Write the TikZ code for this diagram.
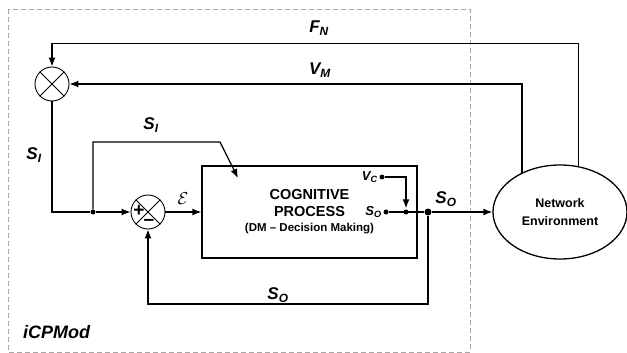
\documentclass[tikz,border=0pt]{standalone}
\usepackage{fontspec}
\setmainfont{Liberation Sans}
\usetikzlibrary{shapes,arrows.meta,positioning,calc}
\tikzstyle{sig}   =[font=\bfseries\itshape\fontsize{17}{17}\selectfont, inner sep=0pt]
\tikzstyle{port}  =[font=\bfseries\itshape\fontsize{13}{13}\selectfont, inner sep=0pt]
\tikzstyle{mixer} =[circle, draw=black, line width=0.9pt, minimum size=34pt, inner sep=0pt]
\tikzstyle{wire}  =[line width=1.3pt]
\tikzstyle{arr}   =[-{Latex[length=9pt,width=7pt]}, line width=1.3pt]
\tikzstyle{dot}   =[circle, fill=black, inner sep=0pt, minimum size=5pt]
\tikzstyle{bigdot}=[circle, fill=black, inner sep=0pt, minimum size=7pt]

\begin{document}
\begin{tikzpicture}[x=1pt, y=-1pt]
  \useasboundingbox (0,0) rectangle (627,353);

  % ── module frame ───────────────────────────────────────────────────────────
  \draw[gray!70, line width=0.9pt, dash pattern=on 5pt off 3pt] (8,9) rectangle (470,352);
  \node[sig, font=\bfseries\itshape\fontsize{18}{18}\selectfont, anchor=west] (mod) at (23,332) {iCPMod};

  % ── nodes ──────────────────────────────────────────────────────────────────
  \node[mixer] (mult) at (52,84) {};
  \draw[line width=0.9pt] (mult.north west) -- (mult.south east) (mult.north east) -- (mult.south west);
  \node[mixer] (sum) at (148,212) {};
  \draw[line width=0.9pt] (sum.north west) -- (sum.south east) (sum.north east) -- (sum.south west);
  \node[font=\bfseries\fontsize{19}{19}\selectfont, inner sep=0pt] (plus)  at (139,211) {+};
  \node[font=\bfseries\fontsize{19}{19}\selectfont, inner sep=0pt] (minus) at (149,222) {–};

  \node[draw, line width=1.3pt, minimum width=215pt, minimum height=92pt, align=center,
        font=\bfseries\fontsize{14.5}{17}\selectfont] (cog) at (309.5,212)
    {COGNITIVE\\PROCESS\\[-2pt]{\fontsize{11.5}{12}\selectfont (DM – Decision Making)}};

  \node[ellipse, draw, line width=1.3pt, minimum width=134pt, minimum height=94pt, align=center,
        font=\bfseries\fontsize{12.5}{18}\selectfont] (env) at (560,212) {Network\\Environment};

  \node[dot]    (vc)   at (382,177) {};
  \node[dot]    (so)   at (386,212) {};
  \node[dot]    (jvc)  at (406,212) {};
  \node[bigdot] (jout) at (428,212) {};
  \node[dot]    (jin)  at (93,212)  {};
  \node[port, anchor=east] at ($(vc.west)+(-1.5,0)$) {V\textsubscript{C}};
  \node[port, anchor=east] at ($(so.west)+(-1.5,0)$) {S\textsubscript{O}};

  \coordinate (fntop) at (52,43.5);
  \coordinate (sitop) at (220,142);
  \coordinate (siin)  at (238,178);
  \coordinate (fb)    at (428,304);

  % ── outer loop ─────────────────────────────────────────────────────────────
  \draw[arr] (env.68) |- (fntop) -- (mult.north);
  \draw[arr] (env.134) |- (mult.east);
  \node[sig] at (319,28) {F\textsubscript{N}};
  \node[sig] at (320,70) {V\textsubscript{M}};

  % ── inner loop ─────────────────────────────────────────────────────────────
  \draw[wire] (mult.south) |- (jin);
  \node[sig] at (34,155) {S\textsubscript{I}};
  \draw[arr] (jin) -- (sum.west);
  \draw[arr] (jin) |- (sitop) -- (siin);
  \node[sig] at (151,125) {S\textsubscript{I}};
  \draw[arr] (sum.east) -- (cog.west);
  \node[font=\fontsize{19}{19}\selectfont] at (183,199) {$\mathcal{E}$};

  \draw[arr, shorten >=1pt] (vc) -| (jvc);
  \draw[wire] (so) -- (jout);
  \draw[arr] (jout) -- (env.west);
  \node[sig] at (446,199) {S\textsubscript{O}};
  \draw[arr] (jout) -- (fb) -| (sum.south);
  \node[sig] at (278,295) {S\textsubscript{O}};

\end{tikzpicture}
\end{document}
